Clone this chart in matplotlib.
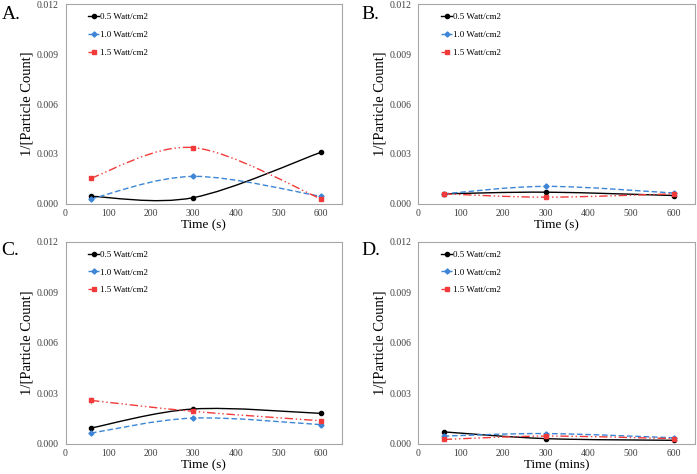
import matplotlib.pyplot as plt
from matplotlib.lines import Line2D
from matplotlib.patches import PathPatch
from matplotlib.path import Path

plt.rcParams["font.family"] = ["Liberation Serif", "DejaVu Serif"]

TIME = [60, 300, 600]
SERIES_LABELS = ["0.5 Watt/cm2", "1.0 Watt/cm2", "1.5 Watt/cm2"]
PANEL_LETTERS = ["A.", "B.", "C.", "D."]
X_LABELS = ["Time (s)", "Time (s)", "Time (s)", "Time (mins)"]

# values per panel: [0.5, 1.0, 1.5 Watt/cm2]
PANEL_A = [[0.00045, 0.00037, 0.0031], [0.0003, 0.00165, 0.00045], [0.00155, 0.00338, 0.0003]]
PANEL_B = [[0.0006, 0.0007, 0.0005], [0.0006, 0.00105, 0.00065], [0.0006, 0.0004, 0.0006]]
PANEL_C = [[0.00093, 0.00206, 0.0018], [0.00063, 0.00152, 0.00113], [0.00257, 0.00192, 0.00136]]
PANEL_D = [[0.0007, 0.0003, 0.0002], [0.00045, 0.0006, 0.00035], [0.00025, 0.00045, 0.0003]]
PANEL_C_ERR = [[0.00005, 0.00015, 0.00008], [0.00004, 0.00012, 0.00006], [0.0002, 0.0001, 0.00008]]

COLORS = ["black", "#3d85d6", "#f23a3a"]
MARKERS = ["o", "D", "s"]
MSIZES = [3, 2.6, 3.4]
DASHES = ["-", (0, (4, 2)), (0, (6, 2, 1, 2, 1, 2))]


def smooth_path(xs, ys):
    # Excel-style smoothed line: cubic Bezier segments through the points
    pts = list(zip(xs, ys))
    ext = [pts[0]] + pts + [pts[-1]]
    verts = [pts[0]]
    codes = [Path.MOVETO]
    for i in range(1, len(ext) - 2):
        p0, p1, p2, p3 = ext[i - 1], ext[i], ext[i + 1], ext[i + 2]
        c1 = (p1[0] + (p2[0] - p0[0]) / 6, p1[1] + (p2[1] - p0[1]) / 6)
        c2 = (p2[0] - (p3[0] - p1[0]) / 6, p2[1] - (p3[1] - p1[1]) / 6)
        verts += [c1, c2, p2]
        codes += [Path.CURVE4] * 3
    return Path(verts, codes)


fig = plt.figure(figsize=(6.97, 4.74), dpi=100)
positions = [
    [0.094, 0.570, 0.397, 0.421],
    [0.600, 0.570, 0.397, 0.421],
    [0.094, 0.064, 0.397, 0.426],
    [0.600, 0.064, 0.397, 0.426],
]
panels = [PANEL_A, PANEL_B, PANEL_C, PANEL_D]
letter_pos = [(0.002, 0.988), (0.518, 0.988), (0.002, 0.490), (0.518, 0.490)]

for k, data in enumerate(panels):
    ax = fig.add_axes(positions[k])
    for s, vals in enumerate(data):
        patch = PathPatch(smooth_path(TIME, vals), facecolor="none",
                          edgecolor=COLORS[s], linestyle=DASHES[s], linewidth=1.0)
        ax.add_patch(patch)
        if k == 2:
            ax.errorbar(TIME, vals, yerr=PANEL_C_ERR[s], fmt="none",
                        ecolor="#b0b0b0", elinewidth=0.8, capsize=0)
        ax.plot(TIME, vals, linestyle="none", marker=MARKERS[s],
                markersize=MSIZES[s], color=COLORS[s])

    handles = [Line2D([], [], color=COLORS[s], linestyle=DASHES[s], linewidth=1.0,
                      marker=MARKERS[s], markersize=MSIZES[s]) for s in range(3)]
    ax.legend(handles, SERIES_LABELS, loc="upper left", frameon=False,
              fontsize=6.5, handlelength=1.2, handletextpad=0.1,
              labelspacing=1.05, borderaxespad=0, bbox_to_anchor=(0.07, 0.975))

    ax.set_xlim(0, 650)
    ax.set_ylim(0, 0.012)
    ax.set_xticks([0, 100, 200, 300, 400, 500, 600])
    ax.set_yticks([0, 0.003, 0.006, 0.009, 0.012])
    ax.set_yticklabels(["0.000", "0.003", "0.006", "0.009", "0.012"])
    ax.tick_params(length=0, labelsize=7, colors="#404040")
    ax.tick_params(axis="y", pad=5)
    ax.tick_params(axis="x", pad=4)
    for sp in ax.spines.values():
        sp.set_color("#a6a6a6")
        sp.set_linewidth(0.8)
    ax.set_xlabel(X_LABELS[k], fontsize=9.5, labelpad=1)
    ax.set_ylabel("1/[Particle Count]", fontsize=10.5, labelpad=2)
    fig.text(letter_pos[k][0], letter_pos[k][1], PANEL_LETTERS[k],
             fontsize=14, va="top", ha="left")

fig.savefig("out.png", dpi=100)
